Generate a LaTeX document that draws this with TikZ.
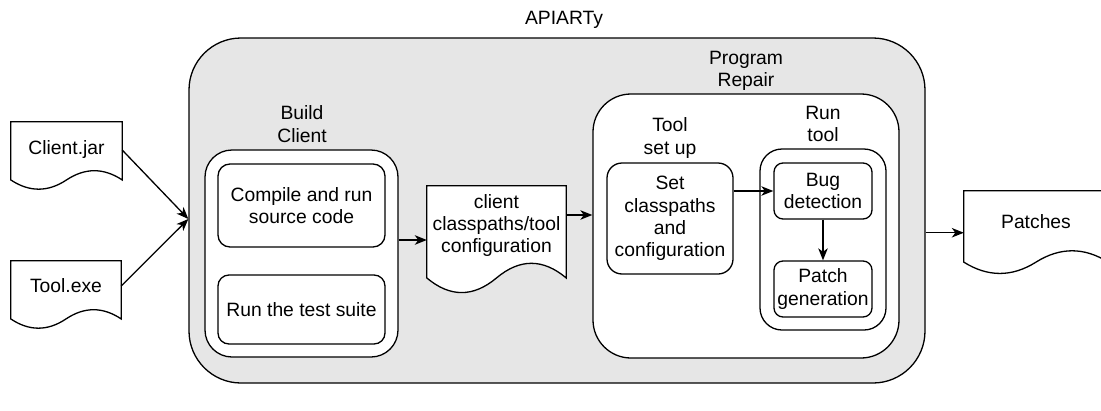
\documentclass[tikz,border=0pt]{standalone}
\usepackage{fontspec}
\setmainfont{Liberation Sans}
\usetikzlibrary{arrows.meta,calc}
\definecolor{panelgray}{HTML}{E6E6E6}

% Wavy-bottomed document outline drawn over an (empty) node's bounds
\newcommand\docoutline[1]{%
  \draw[docline] let \p1=(#1.south west), \p2=(#1.north east),
      \n1={\x2-\x1}, \n2={\y2-\y1} in
    (\x1,\y2) -- (\x2,\y2) -- (\x2,{\y1+0.15*\n2})
    .. controls ({\x2-\n1/6},{\y1+0.33*\n2}) and ({\x1+2*\n1/3},{\y1+0.33*\n2})
    .. ({\x1+0.5*\n1},{\y1+0.15*\n2})
    .. controls ({\x1+\n1/3},{\y1-0.03*\n2}) and ({\x1+\n1/6},{\y1-0.03*\n2})
    .. (\x1,{\y1+0.15*\n2}) -- cycle;}

\tikzset{
  every node/.style={font=\fontsize{19.3}{22.3}\selectfont, text=black},
  roundbox/.style={draw=black, line width=1.3pt, fill=white,
    rounded corners=#1, inner sep=0pt, align=center},
  panel/.style={roundbox=52, fill=panelgray},
  docbox/.style={inner sep=0pt},
  docline/.style={draw=black, line width=1.3pt, fill=white},
  caption/.style={inner sep=0pt, align=center},
  arrow/.style={line width=1.3pt, -{Stealth[length=12pt,width=9.5pt,inset=3.5pt]}},
}

\begin{document}
\begin{tikzpicture}[x=1pt,y=-1pt]
\useasboundingbox (0,0) rectangle (1101,410);

% outer frame
\node[panel, minimum width=736, minimum height=345] (apiarty) at (557,210.5) {};
\node[caption] (apiartytitle) at (564,19.5) {APIARTy};

% build stage
\node[roundbox=27, minimum width=193, minimum height=207] (build) at (301.5,253.5) {};
\node[caption] (buildtitle) at (302,124) {Build\\Client};
\node[roundbox=12, minimum width=167, minimum height=83] (compile) at (301.5,205.5) {Compile and run\\source code};
\node[roundbox=11, minimum width=167, minimum height=69] (tests) at (301.5,309.5) {Run the test suite};

% configuration document
\node[docbox, minimum width=139, minimum height=108] (cfg) at (496.5,240) {};
\docoutline{cfg}
\node[caption] (cfgtext) at (496.5,225.5) {client\\classpaths/tool\\configuration};

% program repair stage
\node[roundbox=38, minimum width=306, minimum height=264] (repair) at (746,226) {};
\node[caption] (repairtitle) at (746,71) {Program\\Repair};
\node[caption] (setuptitle) at (670,138) {Tool\\set up};
\node[roundbox=15, minimum width=126, minimum height=111] (setcp) at (670,218.5) {Set\\classpaths\\and\\configuration};
\node[roundbox=22, minimum width=126, minimum height=181] (runtool) at (823,239.5) {};
\node[caption] (runtooltitle) at (823,124) {Run\\tool};
\node[roundbox=9, minimum width=98, minimum height=56] (bug) at (823,191) {Bug\\detection};
\node[roundbox=9, minimum width=98, minimum height=56] (patchgen) at (823,289) {Patch\\generation};

% inputs
\node[docbox, minimum width=111, minimum height=68] (cjar) at (66.5,156) {};
\docoutline{cjar}
\node[caption] (cjartext) at (66.5,150) {Client.jar};
\node[docbox, minimum width=110, minimum height=68] (texe) at (66,295) {};
\docoutline{texe}
\node[caption] (texetext) at (66,286) {Tool.exe};

% output
\node[docbox, minimum width=144, minimum height=83.5] (patches) at (1036,232.75) {};
\docoutline{patches}
\node[caption] (patchestext) at (1036,221.5) {Patches};

% connectors
\coordinate (inrow) at (0,219);
\coordinate (inlet) at (apiarty.west |- inrow);
\coordinate (cfgrow) at (0,215);
\draw[arrow] (cjar.east |- cjartext) -- (inlet);
\draw[arrow] (texe.east |- texetext) -- (inlet);
\draw[arrow] (build.east |- cfg) -- (cfg.west);
\draw[arrow] (cfg.east |- cfgrow) -- (repair.west |- cfgrow);
\draw[arrow] (setcp.east |- bug) -- (bug.west);
\draw[arrow] (bug.south) -- (patchgen.north);
\draw[arrow] (apiarty.east |- patches) -- (patches.west);
\end{tikzpicture}
\end{document}
